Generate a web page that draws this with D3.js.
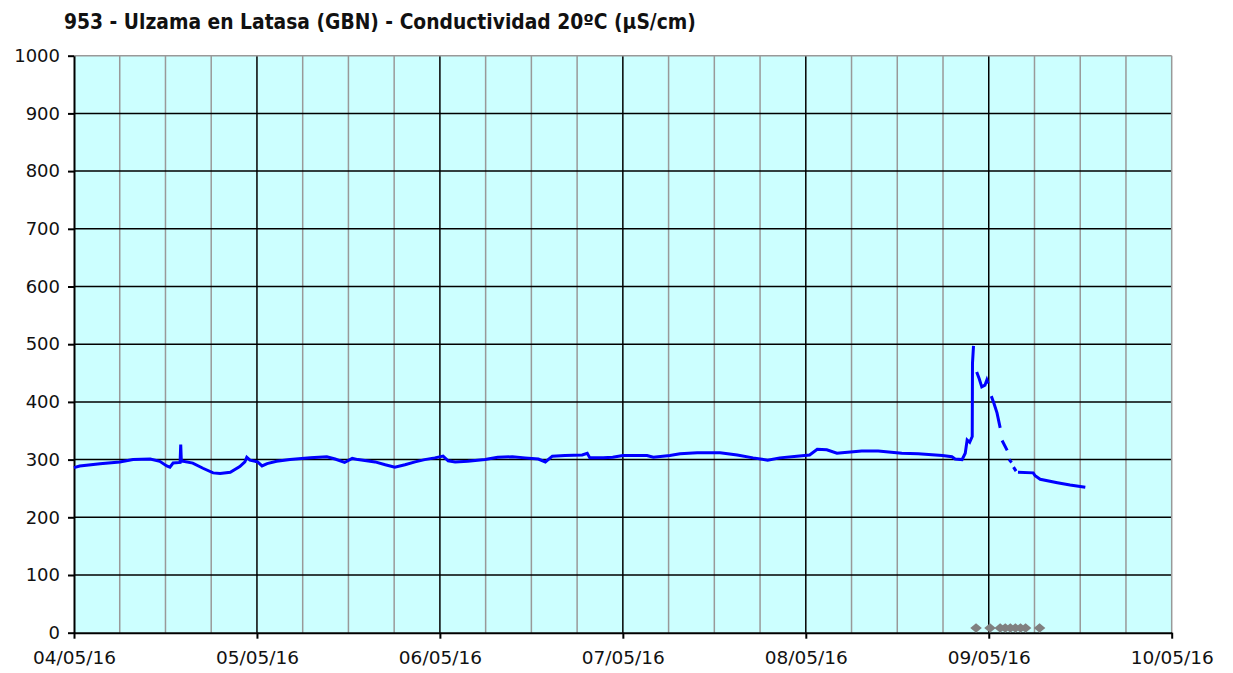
<!DOCTYPE html>
<html><head><meta charset="utf-8">
<script src="https://cdn.jsdelivr.net/npm/d3@7"></script>
<style>
html,body{margin:0;padding:0;background:#fff;}
svg{display:block;}
</style></head>
<body>
<svg id="chart" width="1233" height="673"></svg>
<script>
const titleText = "953 - Ulzama en Latasa (GBN) - Conductividad 20ºC (µS/cm)";
const xTickLabels = ["04/05/16","05/05/16","06/05/16","07/05/16","08/05/16","09/05/16","10/05/16"];
const yTickValues = [0,100,200,300,400,500,600,700,800,900,1000];

// Measurement timestamps (null value = missing data gap)
const times = [
 "2016-05-04T00:00","2016-05-04T00:45","2016-05-04T03:25","2016-05-04T06:00","2016-05-04T07:45",
 "2016-05-04T10:00","2016-05-04T11:15","2016-05-04T12:10","2016-05-04T12:35","2016-05-04T13:00",
 "2016-05-04T13:55","2016-05-04T14:00","2016-05-04T14:05","2016-05-04T14:20","2016-05-04T15:35",
 "2016-05-04T16:55","2016-05-04T18:15","2016-05-04T19:10","2016-05-04T20:30","2016-05-04T21:45",
 "2016-05-04T22:25","2016-05-04T22:40","2016-05-04T23:05","2016-05-05T00:05","2016-05-05T00:40",
 "2016-05-05T01:20","2016-05-05T02:35","2016-05-05T04:20","2016-05-05T07:00","2016-05-05T09:10",
 "2016-05-05T10:15","2016-05-05T11:30","2016-05-05T12:30","2016-05-05T13:15","2016-05-05T15:30",
 "2016-05-05T16:50","2016-05-05T18:05","2016-05-05T19:25","2016-05-05T20:45","2016-05-05T22:00",
 "2016-05-05T23:20","2016-05-06T00:25","2016-05-06T01:05","2016-05-06T02:00","2016-05-06T03:40",
 "2016-05-06T05:55","2016-05-06T07:35","2016-05-06T09:30","2016-05-06T11:10","2016-05-06T12:55",
 "2016-05-06T13:50","2016-05-06T14:45","2016-05-06T16:25","2016-05-06T18:40","2016-05-06T19:20",
 "2016-05-06T19:40","2016-05-06T21:25","2016-05-06T22:40","2016-05-07T00:00","2016-05-07T03:10",
 "2016-05-07T04:00","2016-05-07T06:10","2016-05-07T07:30","2016-05-07T09:45","2016-05-07T12:45",
 "2016-05-07T15:00","2016-05-07T17:05","2016-05-07T19:00","2016-05-07T20:35","2016-05-07T22:50",
 "2016-05-08T00:30","2016-05-08T01:30","2016-05-08T02:45","2016-05-08T04:05","2016-05-08T04:45",
 "2016-05-08T07:20","2016-05-08T09:30","2016-05-08T12:35","2016-05-08T14:45","2016-05-08T17:55",
 "2016-05-08T19:10","2016-05-08T19:35","2016-05-08T20:30","2016-05-08T20:55","2016-05-08T21:10",
 "2016-05-08T21:30","2016-05-08T21:50","2016-05-08T21:52","2016-05-08T22:00","2016-05-08T22:15",
 "2016-05-08T22:25","2016-05-08T22:45","2016-05-08T23:05","2016-05-08T23:30","2016-05-08T23:45",
 "2016-05-08T23:55","2016-05-09T00:10","2016-05-09T00:20","2016-05-09T00:40","2016-05-09T01:05",
 "2016-05-09T01:30","2016-05-09T01:38","2016-05-09T01:45","2016-05-09T02:25","2016-05-09T02:32",
 "2016-05-09T02:40","2016-05-09T03:00","2016-05-09T03:08","2016-05-09T03:15","2016-05-09T03:35",
 "2016-05-09T03:42","2016-05-09T03:50","2016-05-09T05:50","2016-05-09T06:05","2016-05-09T06:45",
 "2016-05-09T09:00","2016-05-09T10:40","2016-05-09T12:40"
];
const values = [
 286,289,293,296,300,
 301,297,289,287,294,
 295,326,297,297,294,
 285,277,276,278,288,
 296,304,299,296,289,
 293,297,300,303,305,
 301,295,302,300,296,
 291,287,291,296,300,
 303,306,298,296,297,
 300,304,305,303,301,
 296,306,307,308,311,
 303,303,304,307,307,
 304,307,310,312,312,
 308,303,299,303,306,
 308,318,317,311,312,
 315,315,311,310,307,
 305,301,300,311,334,
 330,340,467,497,null,
 452,440,426,429,438,
 432,null,410,398,381,
 355,null,333,316,null,
 300,295,null,287,280,
 null,278,277,272,266,
 260,256,252
];

// Gray diamond markers near the baseline
const markerTimes = ["2016-05-08T22:20","2016-05-09T00:10","2016-05-09T01:30","2016-05-09T02:10",
 "2016-05-09T02:50","2016-05-09T03:30","2016-05-09T04:10","2016-05-09T04:50","2016-05-09T06:40"];
const markerValues = [8,8,8,8,8,8,8,8,8];

const parse = d3.timeParse("%Y-%m-%dT%H:%M");
const svg = d3.select("#chart");
const margin = {left:74, top:55.7, right:1233-1171.7, bottom:673-632.7};
const W = 1233, H = 673;
const x = d3.scaleTime()
  .domain([parse("2016-05-04T00:00"), parse("2016-05-10T00:00")])
  .range([margin.left, W - margin.right]);
const y = d3.scaleLinear().domain([0,1000]).range([H - margin.bottom, margin.top]);

const g = svg.append("g");
// background
g.append("rect").attr("x", x.range()[0]).attr("y", y(1000))
  .attr("width", x.range()[1]-x.range()[0]).attr("height", y(0)-y(1000))
  .attr("fill", "#CCFFFF");

// minor vertical gridlines every 6h
const minor = d3.timeHour.every(6).range(x.domain()[0], x.domain()[1]).filter(d => d.getHours() !== 0);
g.selectAll(".minor").data(minor).join("line")
  .attr("x1", d => x(d)).attr("x2", d => x(d))
  .attr("y1", y(0)).attr("y2", y(1000))
  .attr("stroke", "#999").attr("stroke-width", 1.5);

// horizontal major gridlines
g.selectAll(".hgrid").data(yTickValues.filter(v => v > 0 && v < 1000)).join("line")
  .attr("x1", x.range()[0]).attr("x2", x.range()[1])
  .attr("y1", d => y(d)).attr("y2", d => y(d))
  .attr("stroke", "#000").attr("stroke-width", 1.5);

// day gridlines
const days = d3.timeDay.range(x.domain()[0], d3.timeDay.offset(x.domain()[1], 1));
g.selectAll(".vgrid").data(days.slice(1, -1)).join("line")
  .attr("x1", d => x(d)).attr("x2", d => x(d))
  .attr("y1", y(0)).attr("y2", y(1000))
  .attr("stroke", "#000").attr("stroke-width", 1.5);

// border top/right gray
g.append("line").attr("x1", x.range()[0]).attr("x2", x.range()[1]).attr("y1", y(1000)).attr("y2", y(1000))
  .attr("stroke", "#999").attr("stroke-width", 1.5);
g.append("line").attr("x1", x.range()[1]).attr("x2", x.range()[1]).attr("y1", y(0)).attr("y2", y(1000))
  .attr("stroke", "#999").attr("stroke-width", 1.5);

// axes
const yAxis = d3.axisLeft(y).tickValues(yTickValues).tickSize(6).tickSizeOuter(0).tickPadding(8)
  .tickFormat(d3.format("d"));
const yG = svg.append("g").attr("transform", `translate(${x.range()[0]},0)`).call(yAxis);
const xAxis = d3.axisBottom(x).tickValues(days).tickSize(6).tickSizeOuter(0).tickPadding(12)
  .tickFormat((d,i) => xTickLabels[i]);
const xG = svg.append("g").attr("transform", `translate(0,${y(0)})`).call(xAxis);
[yG, xG].forEach(a => {
  a.select(".domain").attr("stroke", "#000").attr("stroke-width", 2);
  a.selectAll(".tick line").attr("stroke", "#000").attr("stroke-width", 2);
  a.selectAll("text").attr("font-family", "'DejaVu Sans', Verdana, sans-serif")
    .attr("font-size", 18).attr("fill", "#111");
});
xG.selectAll("text").attr("font-size", 18.5);

// data line
const data = times.map((t,i) => ({t: parse(t), v: values[i]}));
const line = d3.line().defined(d => d.v !== null).x(d => x(d.t)).y(d => y(d.v));
svg.append("path").datum(data).attr("d", line)
  .attr("fill", "none").attr("stroke", "#0000FF").attr("stroke-width", 3)
  .attr("stroke-linejoin", "miter");

// markers (slightly squat diamonds)
const markers = markerTimes.map((t,i) => ({t: parse(t), v: markerValues[i]}));
svg.selectAll(".mk").data(markers).join("path")
  .attr("d", d3.symbol(d3.symbolDiamond2, 64))
  .attr("transform", d => `translate(${x(d.t)},${y(d.v)}) scale(1.15,0.95)`)
  .attr("fill", "#808080");

// title
svg.append("text").attr("x", 64).attr("y", 28.5)
  .attr("font-family", "'DejaVu Sans Condensed', 'DejaVu Sans', sans-serif")
  .attr("font-weight", "bold").attr("font-size", 20.8).attr("fill", "#111")
  .text(titleText);
</script>
</body></html>
